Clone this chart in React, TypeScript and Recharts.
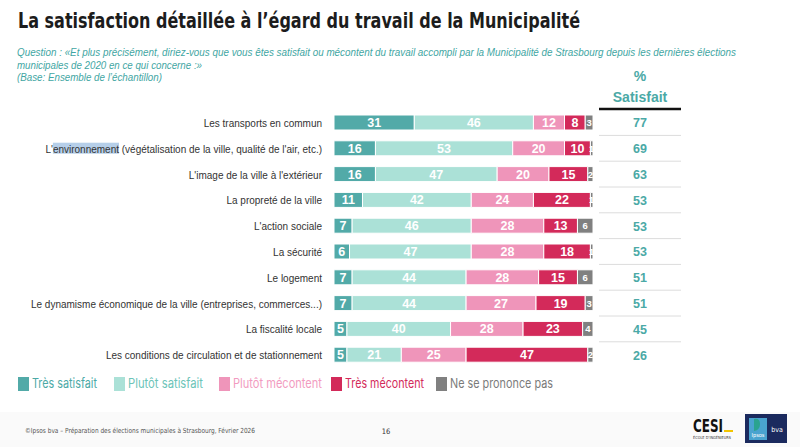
import { useLayoutEffect, useRef, useState } from "react";
import { Bar, BarChart, LabelList, XAxis, YAxis } from "recharts";

// --- data ---
const categories = [
  "Les transports en commun",
  "L'environnement (végétalisation de la ville, qualité de l'air, etc.)",
  "L'image de la ville à l'extérieur",
  "La propreté de la ville",
  "L'action sociale",
  "La sécurité",
  "Le logement",
  "Le dynamisme économique de la ville (entreprises, commerces...)",
  "La fiscalité locale",
  "Les conditions de circulation et de stationnement",
];
const tresSatisfait = [31, 16, 16, 11, 7, 6, 7, 7, 5, 5];
const plutotSatisfait = [46, 53, 47, 42, 46, 47, 44, 44, 40, 21];
const plutotMecontent = [12, 20, 20, 24, 28, 28, 28, 27, 28, 25];
const tresMecontent = [8, 10, 15, 22, 13, 18, 15, 19, 23, 47];
const nsp = [3, 1, 2, 1, 6, 1, 6, 3, 4, 2];
const satisfait = [77, 69, 63, 53, 53, 53, 51, 51, 45, 26];

const series = [
  { key: "tresSatisfait", name: "Très satisfait", fill: "#52aaa8", text: "#4ba9a6" },
  { key: "plutotSatisfait", name: "Plutôt satisfait", fill: "#abe1d7", text: "#6cc4b8" },
  { key: "plutotMecontent", name: "Plutôt mécontent", fill: "#ef95ba", text: "#f29bc0" },
  { key: "tresMecontent", name: "Très mécontent", fill: "#d32a5a", text: "#d32a5a" },
  { key: "nsp", name: "Ne se prononce pas", fill: "#808080", text: "#7a7a7a" },
];

const rows = categories.map((label, i) => ({
  label,
  tresSatisfait: tresSatisfait[i],
  plutotSatisfait: plutotSatisfait[i],
  plutotMecontent: plutotMecontent[i],
  tresMecontent: tresMecontent[i],
  nsp: nsp[i],
  satisfait: satisfait[i],
}));

const narrow = "'DejaVu Sans Condensed', Roboto, sans-serif";
const sans = "'Liberation Sans', Arial, sans-serif";
const teal = "#4ba9a6";

// the slide shows "environnement" selected in the 2nd label
const HIGHLIGHT = "environnement";

function CategoryTick(props: any) {
  const { x, y, payload } = props;
  const label: string = payload.value;
  const at = label.indexOf(HIGHLIGHT);
  const spanRef = useRef<SVGTSpanElement>(null);
  const [box, setBox] = useState<{ x: number; w: number } | null>(null);

  useLayoutEffect(() => {
    if (at < 0 || !spanRef.current) return;
    const text = spanRef.current.parentNode as SVGTextElement;
    const start = text.getStartPositionOfChar(at).x;
    const end = text.getEndPositionOfChar(at + HIGHLIGHT.length - 1).x;
    setBox({ x: start, w: end - start });
  }, [at, label]);

  return (
    <g transform={`translate(${x},${y}) scale(0.87,1)`}>
      {box && <rect x={box.x} y={-6} width={box.w} height={11} fill="#b6cfe9" />}
      <text x={0} y={0} dy={4} textAnchor="end" fontSize={11.5} fill="#333" fontFamily={sans}>
        {at < 0 ? (
          label
        ) : (
          <>
            {label.slice(0, at)}
            <tspan ref={spanRef}>{HIGHLIGHT}</tspan>
            {label.slice(at + HIGHLIGHT.length)}
          </>
        )}
      </text>
    </g>
  );
}

function SatisfaitTick(props: any) {
  const { x, y, payload } = props;
  const i = categories.indexOf(payload.value);
  return (
    <g>
      <text x={x + 47} y={y} dy={4.5} textAnchor="middle" fontSize={12.5} fontWeight="bold" fill={teal} fontFamily={sans}>
        {satisfait[i]}
      </text>
      {i < categories.length - 1 && (
        <line x1={x + 6} x2={x + 88} y1={y + 12.5} y2={y + 12.5} stroke="#dcdcdc" strokeWidth={1} />
      )}
    </g>
  );
}

const valueLabel = (small: boolean) => (props: any) => {
  const { x, y, width, height, value } = props;
  return (
    <text
      x={x + width / 2}
      y={y + height / 2}
      dy={small ? 3.5 : 4.5}
      textAnchor="middle"
      fontSize={small ? 9.5 : 12.5}
      fontWeight="bold"
      fill="#fff"
      fontFamily={sans}
    >
      {value}
    </text>
  );
};

// legend slots as laid out on the slide
const legendX = [18, 114, 219, 331, 436];
const legendW = [65, 75, 89, 79, 103];

export default function App() {
  return (
    <div
      style={{
        position: "absolute",
        left: 0,
        top: 0,
        width: 800,
        height: 447,
        background: "#fff",
        overflow: "hidden",
      }}
    >
      <svg width={800} height={447} style={{ position: "absolute", left: 0, top: 0 }}>
        <rect x={0} y={412} width={800} height={35} fill="#fafafa" />
        <text x={18} y={28} fontSize={22} fontWeight="bold" fill="#1c1c1c" fontFamily={narrow} textLength={562} lengthAdjust="spacingAndGlyphs">
          La satisfaction détaillée à l’égard du travail de la Municipalité
        </text>
        <g fontFamily={sans} fontStyle="italic" fontSize={10.5} fill="#3fa6a3">
          <text x={17} y={56} textLength={719} lengthAdjust="spacingAndGlyphs">
            Question : «Et plus précisément, diriez-vous que vous êtes satisfait ou mécontent du travail accompli par la Municipalité de Strasbourg depuis les dernières élections
          </text>
          <text x={17} y={69} textLength={185} lengthAdjust="spacingAndGlyphs">
            municipales de 2020 en ce qui concerne :»
          </text>
          <text x={17} y={81} textLength={145} lengthAdjust="spacingAndGlyphs">
            (Base: Ensemble de l’échantillon)
          </text>
        </g>
        <g fontFamily={sans} fontWeight="bold" fill={teal} textAnchor="middle" fontSize={14}>
          <text x={640} y={81}>%</text>
          <text x={640} y={102}>Satisfait</text>
        </g>
        <line x1={599} x2={681} y1={109} y2={109} stroke="#111" strokeWidth={2.5} />

        {/* legend */}
        {series.map((s, i) => (
          <g key={s.key}>
            <rect x={legendX[i]} y={377} width={11} height={14} fill={s.fill} />
            <text
              x={legendX[i] + 14}
              y={388}
              fontSize={13}
              fill={s.text}
              fontFamily="Inter, 'Noto Sans', sans-serif"
              textLength={legendW[i]}
              lengthAdjust="spacingAndGlyphs"
            >
              {s.name}
            </text>
          </g>
        ))}

        <text x={25} y={433} fontSize={7} fill="#555" fontFamily={narrow} textLength={230} lengthAdjust="spacingAndGlyphs">
          ©Ipsos bva – Préparation des élections municipales à Strasbourg, Février 2026
        </text>
        <text x={386} y={434} fontSize={7.5} fill="#333" textAnchor="middle" fontFamily={narrow}>16</text>
        {/* logos */}
        <text x={693} y={432} fontSize={17} fontWeight="bold" fill="#111" fontFamily={narrow} textLength={30} lengthAdjust="spacingAndGlyphs">CESI</text>
        <rect x={724} y={430} width={9} height={2} fill="#f2c500" />
        <text x={693} y={439} fontSize={4} fill="#333" fontFamily={narrow} textLength={38} lengthAdjust="spacingAndGlyphs">ÉCOLE D’INGÉNIEURS</text>
        <rect x={745} y={414} width={42} height={29} fill="#1b2a5e" />
        <rect x={749} y={418} width={18} height={22} fill="#4aa3cf" />
        <path d="M754 419 q6 -1 6 5 q0 6 -6 7 z" fill="#2aa38f" />
        <text x={758} y={437} fontSize={5.5} fill="#fff" textAnchor="middle" fontFamily={narrow}>Ipsos</text>
        <text x={777} y={432} fontSize={7} fill="#fff" textAnchor="middle" fontFamily={narrow}>bva</text>
      </svg>

      <div style={{ position: "absolute", left: 0, top: 0 }}>
        <BarChart
          width={800}
          height={447}
          layout="vertical"
          data={rows}
          barSize={15}
          margin={{ top: 110, bottom: 79, left: 0, right: 107 }}
        >
          <XAxis type="number" domain={[0, 100]} hide />
          <YAxis
            type="category"
            dataKey="label"
            width={334}
            axisLine={false}
            tickLine={false}
            tickSize={0}
            tickMargin={12}
            tick={<CategoryTick />}
            interval={0}
          />
          <YAxis
            yAxisId="right"
            orientation="right"
            type="category"
            dataKey="label"
            width={100}
            axisLine={false}
            tickLine={false}
            tickSize={0}
            tickMargin={0}
            tick={<SatisfaitTick />}
            interval={0}
          />
          {series.map((s) => (
            <Bar
              key={s.key}
              dataKey={s.key}
              name={s.name}
              stackId="a"
              fill={s.fill}
              stroke="#fff"
              strokeWidth={1}
              isAnimationActive={false}
            >
              <LabelList dataKey={s.key} content={valueLabel(s.key === "nsp")} />
            </Bar>
          ))}
        </BarChart>
      </div>
    </div>
  );
}
